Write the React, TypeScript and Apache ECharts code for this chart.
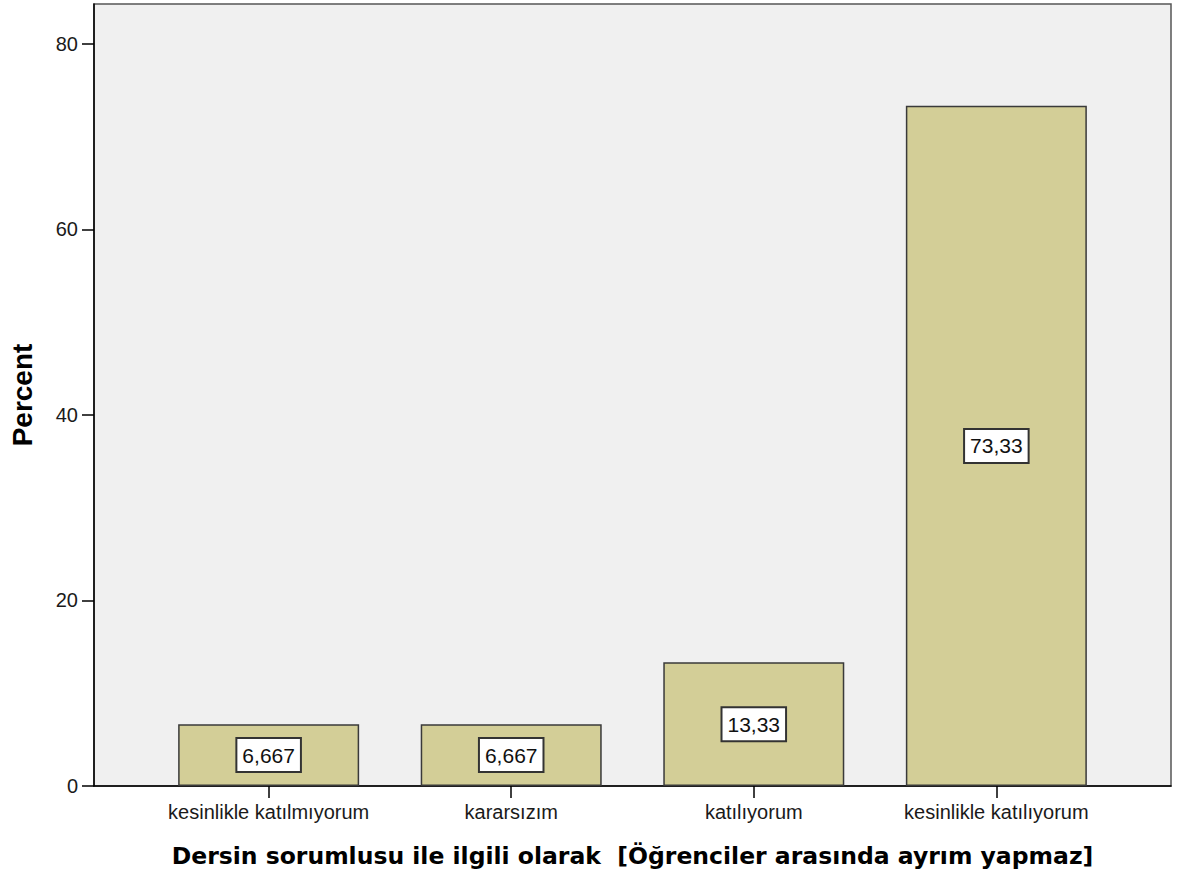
import React, { useEffect, useRef } from "react";
import * as echarts from "echarts";

const categories = [
  "kesinlikle katılmıyorum",
  "kararsızım",
  "katılıyorum",
  "kesinlikle katılıyorum",
];
const percents = [6.667, 6.667, 13.33, 73.33];
const yTicks = [0, 20, 40, 60, 80];
const xTitle = "Dersin sorumlusu ile ilgili olarak  [Öğrenciler arasında ayrım yapmaz]";
const yTitle = "Percent";

const fmt = (v: number) => v.toPrecision(4).replace(".", ",");

export default function App() {
  const ref = useRef<HTMLDivElement>(null);
  useEffect(() => {
    if (!ref.current) return;
    const chart = echarts.init(ref.current, null, { renderer: "svg" });
    const catIdx = categories.map((_, i) => i);
    chart.setOption({
      animation: false,
      backgroundColor: "#ffffff",
      grid: {
        left: 93,
        right: 8,
        top: 4,
        bottom: 96,
        show: true,
        backgroundColor: "#f0f0f0",
        borderColor: "#555555",
        borderWidth: 1.5,
      },
      xAxis: {
        type: "value",
        min: -0.72,
        max: 3.72,
        name: xTitle,
        nameLocation: "middle",
        nameGap: 58,
        nameTextStyle: {
          fontFamily: "DejaVu Sans",
          fontWeight: "bold",
          fontSize: 23.5,
          color: "#000",
        },
        axisLine: { show: true, onZero: false, lineStyle: { color: "#000", width: 1.5 } },
        axisTick: {
          show: true,
          length: 12,
          customValues: catIdx,
          lineStyle: { color: "#000", width: 1.5 },
        },
        axisLabel: {
          customValues: catIdx,
          margin: 16,
          fontFamily: "Liberation Sans",
          fontSize: 20,
          color: "#1a1a1a",
          formatter: (v: number) => categories[Math.round(v)] ?? "",
        },
        splitLine: { show: false },
      },
      yAxis: {
        type: "value",
        min: 0,
        max: 84.3,
        name: yTitle,
        nameLocation: "middle",
        nameRotate: 90,
        nameGap: 58,
        nameTextStyle: {
          fontFamily: "Liberation Sans",
          fontWeight: "bold",
          fontSize: 28,
          color: "#000",
        },
        axisLine: { show: true, onZero: false, lineStyle: { color: "#000", width: 1.5 } },
        axisTick: {
          show: true,
          length: 12,
          customValues: yTicks,
          lineStyle: { color: "#000", width: 1.5 },
        },
        axisLabel: {
          customValues: yTicks,
          margin: 16,
          fontFamily: "Liberation Sans",
          fontSize: 20,
          color: "#1a1a1a",
        },
        splitLine: { show: false },
      },
      series: [
        {
          type: "bar",
          barWidth: 181,
          data: percents.map((p, i) => [i, p]),
          itemStyle: {
            color: "#d3ce97",
            borderColor: "#3a3a3a",
            borderWidth: 1.5,
          },
          label: {
            show: true,
            position: "inside",
            formatter: (p: any) => fmt(p.value[1]),
            fontFamily: "Liberation Sans",
            fontSize: 21,
            color: "#111",
            backgroundColor: "#ffffff",
            borderColor: "#333333",
            borderWidth: 2,
            padding: [6, 5, 5, 5],
          },
        },
      ],
    });
    return () => chart.dispose();
  }, []);
  return (
    <div
      ref={ref}
      style={{ position: "fixed", left: 0, top: 0, width: 1179, height: 882 }}
    />
  );
}
